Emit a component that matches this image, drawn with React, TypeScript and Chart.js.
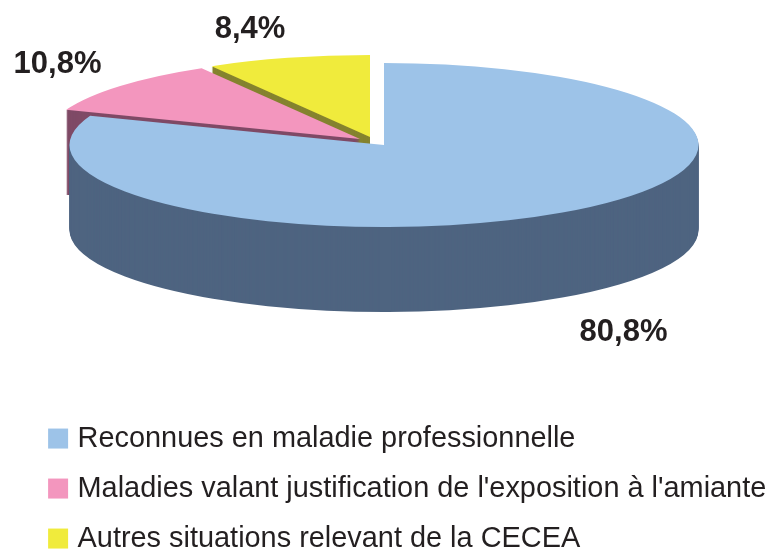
import React, { useEffect, useRef } from "react";
import { Chart, registerables } from "chart.js";

Chart.register(...registerables);

const categories = [
  "Reconnues en maladie professionnelle",
  "Maladies valant justification de l'exposition à l'amiante",
  "Autres situations relevant de la CECEA",
];
const shares = [80.8, 10.8, 8.4];
const faceColors = ["#9DC3E8", "#F396BE", "#F0EB3C"];
const wallColors = ["#4E6480", "#7F4A66", "#85832F"];

const CENTER = { x: 384, y: 145 };
const RADIUS_X = 314.5;
const RADIUS_Y = 82;
const DEPTH = 85;
const SLICE_SHIFT = [
  { x: 0, y: 0 },
  { x: -24, y: -6 },
  { x: -14, y: -8 },
];
const LABEL_AT = [
  { x: 623.5, y: 332 },
  { x: 57.5, y: 64 },
  { x: 250, y: 29 },
];
const TEXT_COLOR = "#231F20";
const FONT = "'Liberation Sans', Arial, sans-serif";

const pie3d = {
  id: "pie3d",
  beforeDatasetDraw(chart: any) {
    const { ctx } = chart;
    const arcs = chart.getDatasetMeta(0).data;
    const R = arcs[0].outerRadius;
    const cx = arcs[0].x;
    const cy = arcs[0].y;
    const drawArc = (i: number, dy: number, color: string) => {
      const arc = arcs[i];
      const saved = arc.options;
      arc.options = { ...saved, backgroundColor: color };
      ctx.save();
      ctx.translate(CENTER.x + SLICE_SHIFT[i].x, CENTER.y + SLICE_SHIFT[i].y + dy);
      ctx.scale(RADIUS_X / R, RADIUS_Y / R);
      ctx.translate(-cx, -cy);
      arc.draw(ctx);
      ctx.restore();
      arc.options = saved;
    };
    for (let i = arcs.length - 1; i >= 0; i--) {
      for (let d = DEPTH; d > 0; d--) drawArc(i, d, wallColors[i]);
      drawArc(i, 0, faceColors[i]);
    }
    return false;
  },
  afterDraw(chart: any) {
    const { ctx } = chart;
    ctx.save();
    ctx.font = `bold 31px ${FONT}`;
    ctx.fillStyle = TEXT_COLOR;
    ctx.textAlign = "center";
    ctx.textBaseline = "middle";
    shares.forEach((v, i) => {
      ctx.fillText(`${String(v).replace(".", ",")}%`, LABEL_AT[i].x, LABEL_AT[i].y);
    });
    ctx.restore();
  },
};

export default function App() {
  const ref = useRef<HTMLCanvasElement>(null);
  useEffect(() => {
    const chart = new Chart(ref.current as HTMLCanvasElement, {
      type: "pie",
      data: {
        labels: categories,
        datasets: [
          {
            data: shares,
            backgroundColor: faceColors,
            borderWidth: 0,
            clip: false,
          } as any,
        ],
      },
      options: {
        responsive: false,
        animation: false,
        devicePixelRatio: 1,
        layout: { padding: { left: 32, right: 0, top: 0, bottom: -12 } },
        plugins: {
          tooltip: { enabled: false },
          legend: {
            position: "bottom",
            align: "start",
            labels: {
              boxWidth: 10,
              boxHeight: 10,
              padding: 21.1,
              color: TEXT_COLOR,
              font: { family: FONT, size: 28.9, lineHeight: 1.2 },
              generateLabels: (c: any) =>
                categories.map((text, i) => ({
                  text,
                  index: i,
                  fillStyle: faceColors[i],
                  strokeStyle: faceColors[i],
                  lineWidth: 10,
                  fontColor: TEXT_COLOR,
                })),
            },
          },
        },
      } as any,
      plugins: [pie3d],
    });
    return () => chart.destroy();
  }, []);
  return (
    <div style={{ position: "absolute", left: 0, top: 0, width: 767, height: 551, background: "#fff" }}>
      <canvas ref={ref} width={767} height={551} style={{ display: "block" }} />
    </div>
  );
}
